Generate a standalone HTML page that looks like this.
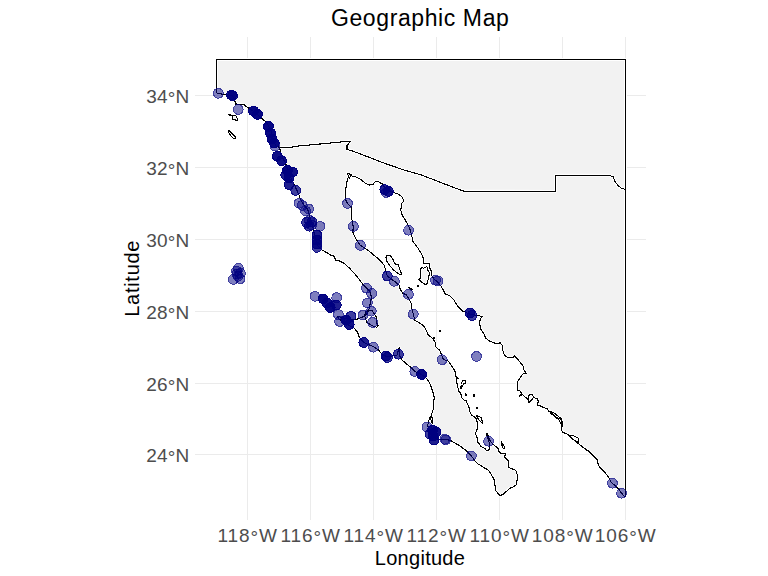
<!DOCTYPE html><html><head><meta charset="utf-8"><style>html,body{margin:0;padding:0;background:#fff;}svg{display:block;}text{font-family:"Liberation Sans",sans-serif;}</style></head><body>
<svg width="768" height="576" viewBox="0 0 768 576">
<rect width="768" height="576" fill="#fff"/>
<path d="M247.5,37 V520 M310.5,37 V520 M373.5,37 V520 M436.5,37 V520 M499.5,37 V520 M562.5,37 V520 M625.5,37 V520 M195,95.5 H646 M195,167.5 H646 M195,239.5 H646 M195,311.5 H646 M195,383.5 H646 M195,454.5 H646" stroke="#EBEBEB" stroke-width="1" fill="none" shape-rendering="crispEdges"/>
<path d="M216.5,59.5 L625.5,59.5 L625.5,497.4 L625.3,497.4 L622.1,493.8 L619.0,489.6 L614.8,485.4 L611.1,482.3 L608.5,477.1 L604.4,471.9 L600.2,467.7 L598.1,464.6 L597.6,460.4 L594.0,456.4 L589.3,451.6 L586.7,450.0 L581.6,446.2 L576.9,442.3 L570.6,436.9 L568.3,434.5 L562.8,432.2 L561.2,429.8 L562.0,426.7 L562.0,421.2 L559.7,418.9 L555.0,416.6 L551.9,413.4 L548.7,411.2 L547.2,408.9 L543.2,407.3 L540.1,405.8 L537.4,405.0 L538.2,401.5 L537.8,399.1 L535.4,398.4 L533.5,397.2 L531.0,401.0 L528.8,402.3 L527.6,399.1 L524.5,396.4 L522.2,394.5 L519.4,396.4 L521.5,393.5 L520.6,391.3 L517.5,390.2 L517.1,383.1 L518.6,380.0 L521.6,375.5 L523.5,373.5 L526.2,373.1 L524.0,370.0 L523.1,366.1 L520.0,362.2 L516.9,358.3 L514.5,356.0 L513.0,357.5 L508.3,357.8 L504.4,355.2 L502.8,350.5 L502.0,345.0 L500.0,342.6 L498.9,343.4 L495.0,343.1 L489.5,341.1 L485.6,338.0 L484.0,334.0 L481.0,329.4 L479.4,323.1 L480.5,318.8 L482.0,316.4 L478.0,315.6 L471.0,314.5 L467.0,313.0 L462.5,311.0 L457.8,306.2 L453.9,300.0 L450.0,296.1 L445.3,293.8 L441.4,286.7 L437.0,281.5 L434.5,279.5 L431.9,276.1 L431.4,271.2 L429.5,267.8 L429.0,263.4 L423.5,263.4 L423.5,258.4 L421.8,254.5 L420.3,252.0 L417.9,248.0 L415.6,245.0 L412.9,241.3 L411.7,235.6 L410.5,231.0 L409.4,227.8 L406.2,221.6 L402.3,215.3 L400.8,210.6 L401.5,203.6 L403.1,202.0 L403.1,199.0 L401.7,196.4 L397.8,194.0 L393.9,192.5 L386.6,190.0 L382.2,183.9 L378.3,181.6 L375.2,181.6 L372.8,184.7 L368.9,185.0 L365.0,183.0 L360.3,179.2 L355.6,176.9 L352.5,176.4 L348.4,177.0 L347.3,180.0 L346.5,184.7 L345.6,190.0 L345.4,194.0 L345.3,198.8 L346.5,202.0 L349.0,205.0 L351.4,207.1 L351.7,212.0 L351.9,219.6 L353.2,226.4 L352.9,232.0 L354.1,235.0 L356.0,238.9 L357.4,240.9 L360.4,245.4 L365.8,248.7 L371.0,252.6 L376.2,257.1 L381.5,261.7 L384.7,266.2 L385.4,270.2 L387.3,276.0 L391.0,279.0 L394.5,281.2 L399.0,285.1 L400.3,289.7 L403.0,293.6 L406.0,294.5 L408.8,298.8 L411.0,302.7 L411.7,307.8 L413.3,314.0 L414.8,320.3 L420.3,323.4 L424.2,326.6 L426.6,331.2 L428.1,334.7 L432.8,338.6 L435.2,342.5 L436.0,347.2 L439.8,350.3 L441.5,355.0 L443.5,359.5 L448.4,361.2 L451.6,366.0 L454.7,370.6 L455.3,372.0 L456.2,377.6 L458.6,378.1 L456.7,379.0 L456.7,382.3 L458.6,390.8 L460.9,393.6 L461.4,397.3 L464.2,400.1 L467.0,400.1 L466.5,402.0 L468.9,406.7 L469.8,411.4 L471.7,415.1 L474.5,417.0 L476.4,418.9 L477.3,422.6 L477.3,426.0 L477.0,429.8 L475.4,433.6 L477.0,437.5 L477.3,442.0 L478.9,443.6 L481.2,446.6 L485.0,448.5 L486.5,450.4 L487.6,450.8 L489.6,448.9 L489.9,445.8 L488.5,440.0 L486.3,433.5 L487.5,434.0 L489.5,440.0 L492.6,443.9 L494.9,445.8 L498.7,448.9 L499.1,452.7 L501.0,453.1 L504.8,453.1 L505.6,454.6 L504.4,456.5 L505.6,458.1 L508.5,461.2 L508.5,467.1 L511.6,468.7 L514.7,469.8 L516.7,471.8 L517.1,474.5 L517.1,480.0 L516.3,484.7 L513.2,487.0 L509.2,488.6 L506.1,491.7 L503.0,494.5 L499.9,495.6 L499.9,495.6 L497.9,493.3 L496.0,491.0 L494.8,484.7 L494.4,480.0 L492.5,476.9 L489.7,471.8 L487.4,469.5 L483.5,467.5 L480.3,465.2 L478.0,464.2 L475.0,461.1 L471.4,455.9 L466.9,451.2 L459.9,446.0 L455.0,443.0 L450.3,440.4 L446.0,439.5 L442.0,440.0 L437.0,439.0 L432.0,436.0 L428.5,430.0 L427.8,425.2 L428.6,421.7 L429.5,418.2 L431.2,415.6 L433.4,408.7 L433.4,401.0 L434.4,398.8 L433.6,394.0 L432.0,389.4 L429.7,383.1 L426.6,378.4 L421.6,374.5 L414.8,371.4 L411.0,367.5 L406.2,363.6 L401.6,359.7 L399.8,356.0 L399.2,347.5 L397.0,355.0 L392.0,356.0 L386.7,356.6 L381.2,353.4 L378.0,349.5 L373.0,346.4 L368.0,344.5 L363.8,342.5 L359.2,337.3 L358.8,335.0 L357.3,332.0 L353.6,327.5 L350.0,326.0 L346.0,324.0 L342.0,321.0 L339.0,319.0 L337.5,316.5 L340.0,317.0 L346.0,318.5 L352.0,319.5 L357.8,319.0 L363.9,316.5 L367.4,313.0 L369.1,308.6 L370.0,304.3 L371.3,298.2 L370.8,293.0 L367.4,288.7 L363.0,284.3 L362.0,283.2 L359.3,279.3 L354.8,274.0 L350.2,268.9 L345.0,263.9 L340.1,261.1 L336.0,260.4 L333.9,256.2 L330.4,254.9 L327.0,252.8 L322.0,250.0 L318.0,246.0 L315.5,240.0 L313.5,230.0 L311.5,222.0 L309.2,214.4 L307.6,209.2 L304.0,205.0 L300.8,199.8 L298.8,194.6 L295.0,186.0 L291.0,178.0 L288.0,170.0 L285.0,162.0 L281.0,155.0 L279.7,147.6 L276.0,146.0 L273.0,140.0 L271.0,131.0 L268.0,125.0 L265.2,121.1 L261.6,118.5 L255.5,112.8 L248.5,108.1 L244.4,105.0 L241.2,104.2 L235.5,104.0 L235.0,101.4 L234.5,99.0 L232.0,95.4 L225.6,94.6 L218.5,93.5 L216.9,93.2 Z" fill="#F2F2F2" stroke="none"/>
<path d="M232.0,115.6 L234.0,115.2 L236.5,116.3 L237.2,118.5 L238.0,120.0 L236.8,121.0 L235.5,119.8 L232.4,119.8 Z" fill="#F2F2F2"/>
<path d="M228.2,114.3 L231.5,115.3 L231.3,115.9 L228.5,114.9 Z" fill="#F2F2F2"/>
<path d="M228.2,130.3 L230.0,131.5 L232.0,133.3 L234.5,135.8 L236.0,137.2 L235.0,138.5 L233.4,138.4 L231.5,136.5 L229.5,133.5 L228.0,131.2 Z" fill="#F2F2F2"/>
<path d="M347.4,173.2 L351.6,174.8 L349.2,178.2 Z" fill="#F2F2F2"/>
<path d="M386.7,255.8 L390.0,255.2 L393.2,259.7 L394.5,263.6 L398.4,265.0 L399.5,268.5 L401.6,274.0 L399.6,274.5 L397.1,272.8 L393.8,270.2 L389.3,265.0 L386.7,261.0 L386.0,257.5 Z" fill="#F2F2F2"/>
<path d="M420.4,269.1 L422.5,267.3 L423.5,268.3 L426.7,266.5 L428.0,268.0 L427.4,269.6 L429.5,272.5 L428.8,277.2 L427.7,281.4 L426.7,284.5 L425.1,284.5 L421.5,281.9 L418.9,279.5 L420.2,278.2 Z" fill="#F2F2F2"/>
<path d="M501.4,441.3 L502.3,443.5 L504.0,445.8 L504.8,448.1 L503.3,448.9 L502.2,446.5 L501.6,443.5 Z" fill="#F2F2F2"/>
<path d="M476.4,415.1 L479.0,416.5 L481.5,418.0 L482.5,423.0 L481.0,422.0 L478.5,419.5 Z" fill="#F2F2F2"/>
<path d="M408.8,287.0 L412.7,289.7 L411.8,290.2 L408.5,287.8 Z" fill="#F2F2F2"/>
<path d="M462.3,380.9 L465.1,380.0 L465.6,383.2 L463.5,384.0 L461.4,388.4 L460.4,388.9 L461.5,384.5 Z" fill="#F2F2F2"/>
<path d="M465.5,394.0 L466.8,394.2 L466.6,395.4 L465.3,395.2 Z" fill="#F2F2F2"/>
<path d="M473.4,394.6 L474.8,395.0 L474.6,396.3 L473.3,396.0 Z" fill="#F2F2F2"/>
<path d="M476.3,407.2 L477.6,408.0 L476.4,408.9 Z" fill="#F2F2F2"/>
<path d="M430.8,416.0 L432.2,417.5 L432.8,420.5 L432.2,423.5 L431.3,421.0 L430.5,418.0 Z" fill="#F2F2F2"/>
<path d="M528.5,396.0 L530.0,394.6 L532.3,394.4 L533.5,397.2 L531.5,400.0 L529.5,402.2 L528.0,399.5 Z" fill="#F2F2F2"/>
<path d="M550.0,411.0 L554.0,413.0 L558.0,416.0 L561.5,419.0 L562.5,423.0 L561.5,424.5 L559.0,420.0 L555.0,416.5 L551.0,413.5 Z" fill="#F2F2F2"/>
<path d="M569.0,435.0 L574.0,436.0 L578.0,438.0 L578.5,442.0 L576.0,441.5 L571.0,438.0 Z" fill="#F2F2F2"/>
<path d="M366.0,311.5 L369.0,310.5 L372.5,311.0 L375.0,315.0 L376.5,317.5 L376.0,321.0 L378.0,325.5 L377.0,327.3 L373.0,326.0 L369.5,324.0 L366.5,322.0 L365.5,318.0 L364.5,315.5 Z" fill="#fff"/>
<path d="M216.5,93.2 L216.5,59.5 L625.5,59.5 L625.5,497.4 M352.5,176.4 L355.6,176.9 L360.3,179.2 L365.0,183.0 L368.9,185.0 L372.8,184.7 L375.2,181.6 L378.3,181.6 L382.2,183.9 L386.6,190.0 L393.9,192.5 L397.8,194.0 L401.7,196.4 L403.1,199.0 L403.1,202.0 L401.5,203.6 L400.8,210.6 L402.3,215.3 L406.2,221.6 L409.4,227.8 L410.5,231.0 L411.7,235.6 L412.9,241.3 L415.6,245.0 L417.9,248.0 L420.3,252.0 L421.8,254.5 L423.5,258.4 L423.5,263.4 L429.0,263.4 L429.5,267.8 L431.4,271.2 L431.9,276.1 L434.5,279.5 L437.0,281.5 L441.4,286.7 L445.3,293.8 L450.0,296.1 L453.9,300.0 L457.8,306.2 L462.5,311.0 L467.0,313.0 L471.0,314.5 L478.0,315.6 L482.0,316.4 L480.5,318.8 L479.4,323.1 L481.0,329.4 L484.0,334.0 L485.6,338.0 L489.5,341.1 L495.0,343.1 L498.9,343.4 L500.0,342.6 L502.0,345.0 L502.8,350.5 L504.4,355.2 L508.3,357.8 L513.0,357.5 L514.5,356.0 L516.9,358.3 L520.0,362.2 L523.1,366.1 L524.0,370.0 L526.2,373.1 L523.5,373.5 L521.6,375.5 L518.6,380.0 L517.1,383.1 L517.5,390.2 L520.6,391.3 L521.5,393.5 L519.4,396.4 L522.2,394.5 L524.5,396.4 L527.6,399.1 L528.8,402.3 L531.0,401.0 L533.5,397.2 L535.4,398.4 L537.8,399.1 L538.2,401.5 L537.4,405.0 L540.1,405.8 L543.2,407.3 L547.2,408.9 L548.7,411.2 L551.9,413.4 L555.0,416.6 L559.7,418.9 L562.0,421.2 L562.0,426.7 L561.2,429.8 L562.8,432.2 L568.3,434.5 L570.6,436.9 L576.9,442.3 L581.6,446.2 L586.7,450.0 L589.3,451.6 L594.0,456.4 L597.6,460.4 L598.1,464.6 L600.2,467.7 L604.4,471.9 L608.5,477.1 L611.1,482.3 L614.8,485.4 L619.0,489.6 L622.1,493.8 L625.3,497.4 M348.4,177.0 L347.3,180.0 L346.5,184.7 L345.6,190.0 L345.4,194.0 L345.3,198.8 L346.5,202.0 L349.0,205.0 L351.4,207.1 L351.7,212.0 L351.9,219.6 L353.2,226.4 L352.9,232.0 L354.1,235.0 L356.0,238.9 L357.4,240.9 L360.4,245.4 L365.8,248.7 L371.0,252.6 L376.2,257.1 L381.5,261.7 L384.7,266.2 L385.4,270.2 L387.3,276.0 L391.0,279.0 L394.5,281.2 L399.0,285.1 L400.3,289.7 L403.0,293.6 L406.0,294.5 L408.8,298.8 L411.0,302.7 L411.7,307.8 L413.3,314.0 L414.8,320.3 L420.3,323.4 L424.2,326.6 L426.6,331.2 L428.1,334.7 L432.8,338.6 L435.2,342.5 L436.0,347.2 L439.8,350.3 L441.5,355.0 L443.5,359.5 L448.4,361.2 L451.6,366.0 L454.7,370.6 L455.3,372.0 L456.2,377.6 L458.6,378.1 L456.7,379.0 L456.7,382.3 L458.6,390.8 L460.9,393.6 L461.4,397.3 L464.2,400.1 L467.0,400.1 L466.5,402.0 L468.9,406.7 L469.8,411.4 L471.7,415.1 L474.5,417.0 L476.4,418.9 L477.3,422.6 L477.3,426.0 L477.0,429.8 L475.4,433.6 L477.0,437.5 L477.3,442.0 L478.9,443.6 L481.2,446.6 L485.0,448.5 L486.5,450.4 L487.6,450.8 L489.6,448.9 L489.9,445.8 L488.5,440.0 L486.3,433.5 L487.5,434.0 L489.5,440.0 L492.6,443.9 L494.9,445.8 L498.7,448.9 L499.1,452.7 L501.0,453.1 L504.8,453.1 L505.6,454.6 L504.4,456.5 L505.6,458.1 L508.5,461.2 L508.5,467.1 L511.6,468.7 L514.7,469.8 L516.7,471.8 L517.1,474.5 L517.1,480.0 L516.3,484.7 L513.2,487.0 L509.2,488.6 L506.1,491.7 L503.0,494.5 L499.9,495.6 M216.9,93.2 L218.5,93.5 L225.6,94.6 L232.0,95.4 L234.5,99.0 L235.0,101.4 L235.5,104.0 L241.2,104.2 L244.4,105.0 L248.5,108.1 L255.5,112.8 L261.6,118.5 L265.2,121.1 L268.0,125.0 L271.0,131.0 L273.0,140.0 L276.0,146.0 L279.7,147.6 L281.0,155.0 L285.0,162.0 L288.0,170.0 L291.0,178.0 L295.0,186.0 L298.8,194.6 L300.8,199.8 L304.0,205.0 L307.6,209.2 L309.2,214.4 L311.5,222.0 L313.5,230.0 L315.5,240.0 L318.0,246.0 L322.0,250.0 L327.0,252.8 L330.4,254.9 L333.9,256.2 L336.0,260.4 L340.1,261.1 L345.0,263.9 L350.2,268.9 L354.8,274.0 L359.3,279.3 L362.0,283.2 L363.0,284.3 L367.4,288.7 L370.8,293.0 L371.3,298.2 L370.0,304.3 L369.1,308.6 L367.4,313.0 L363.9,316.5 L357.8,319.0 L352.0,319.5 L346.0,318.5 L340.0,317.0 L337.5,316.5 L339.0,319.0 L342.0,321.0 L346.0,324.0 L350.0,326.0 L353.6,327.5 L357.3,332.0 L358.8,335.0 L359.2,337.3 L363.8,342.5 L368.0,344.5 L373.0,346.4 L378.0,349.5 L381.2,353.4 L386.7,356.6 L392.0,356.0 L397.0,355.0 L399.2,347.5 L399.8,356.0 L401.6,359.7 L406.2,363.6 L411.0,367.5 L414.8,371.4 L421.6,374.5 L426.6,378.4 L429.7,383.1 L432.0,389.4 L433.6,394.0 L434.4,398.8 L433.4,401.0 L433.4,408.7 L431.2,415.6 L429.5,418.2 L428.6,421.7 L427.8,425.2 L428.5,430.0 L432.0,436.0 L437.0,439.0 L442.0,440.0 L446.0,439.5 L450.3,440.4 L455.0,443.0 L459.9,446.0 L466.9,451.2 L471.4,455.9 L475.0,461.1 L478.0,464.2 L480.3,465.2 L483.5,467.5 L487.4,469.5 L489.7,471.8 L492.5,476.9 L494.4,480.0 L494.8,484.7 L496.0,491.0 L497.9,493.3 L499.9,495.6 M279.7,147.6 L289.7,147.5 L298.4,146.0 L314.9,144.5 L349.4,141.2 L350.4,141.4 L347.0,145.6 L347.0,149.5 L352.5,151.0 L371.2,158.1 L385.3,163.6 L404.7,170.2 L421.5,175.0 L439.5,182.0 L453.0,187.2 L464.0,191.2 L555.6,191.4 L555.6,175.3 L609.0,175.3 L613.0,176.6 L615.3,182.0 L618.4,186.0 L621.6,188.3 L625.3,189.4 M232.0,115.6 L234.0,115.2 L236.5,116.3 L237.2,118.5 L238.0,120.0 L236.8,121.0 L235.5,119.8 L232.4,119.8 Z M228.2,114.3 L231.5,115.3 L231.3,115.9 L228.5,114.9 Z M228.2,130.3 L230.0,131.5 L232.0,133.3 L234.5,135.8 L236.0,137.2 L235.0,138.5 L233.4,138.4 L231.5,136.5 L229.5,133.5 L228.0,131.2 Z M347.4,173.2 L351.6,174.8 L349.2,178.2 Z M386.7,255.8 L390.0,255.2 L393.2,259.7 L394.5,263.6 L398.4,265.0 L399.5,268.5 L401.6,274.0 L399.6,274.5 L397.1,272.8 L393.8,270.2 L389.3,265.0 L386.7,261.0 L386.0,257.5 Z M420.4,269.1 L422.5,267.3 L423.5,268.3 L426.7,266.5 L428.0,268.0 L427.4,269.6 L429.5,272.5 L428.8,277.2 L427.7,281.4 L426.7,284.5 L425.1,284.5 L421.5,281.9 L418.9,279.5 L420.2,278.2 Z M501.4,441.3 L502.3,443.5 L504.0,445.8 L504.8,448.1 L503.3,448.9 L502.2,446.5 L501.6,443.5 Z M476.4,415.1 L479.0,416.5 L481.5,418.0 L482.5,423.0 L481.0,422.0 L478.5,419.5 Z M408.8,287.0 L412.7,289.7 L411.8,290.2 L408.5,287.8 Z M462.3,380.9 L465.1,380.0 L465.6,383.2 L463.5,384.0 L461.4,388.4 L460.4,388.9 L461.5,384.5 Z M465.5,394.0 L466.8,394.2 L466.6,395.4 L465.3,395.2 Z M473.4,394.6 L474.8,395.0 L474.6,396.3 L473.3,396.0 Z M476.3,407.2 L477.6,408.0 L476.4,408.9 Z M430.8,416.0 L432.2,417.5 L432.8,420.5 L432.2,423.5 L431.3,421.0 L430.5,418.0 Z M528.5,396.0 L530.0,394.6 L532.3,394.4 L533.5,397.2 L531.5,400.0 L529.5,402.2 L528.0,399.5 Z M550.0,411.0 L554.0,413.0 L558.0,416.0 L561.5,419.0 L562.5,423.0 L561.5,424.5 L559.0,420.0 L555.0,416.5 L551.0,413.5 Z M569.0,435.0 L574.0,436.0 L578.0,438.0 L578.5,442.0 L576.0,441.5 L571.0,438.0 Z M366.0,311.5 L369.0,310.5 L372.5,311.0 L375.0,315.0 L376.5,317.5 L376.0,321.0 L378.0,325.5 L377.0,327.3 L373.0,326.0 L369.5,324.0 L366.5,322.0 L365.5,318.0 L364.5,315.5 Z" fill="none" stroke="#fff" stroke-width="3" stroke-linejoin="round" stroke-linecap="round"/>
<path d="M216.5,93.2 L216.5,59.5 L625.5,59.5 L625.5,497.4 M352.5,176.4 L355.6,176.9 L360.3,179.2 L365.0,183.0 L368.9,185.0 L372.8,184.7 L375.2,181.6 L378.3,181.6 L382.2,183.9 L386.6,190.0 L393.9,192.5 L397.8,194.0 L401.7,196.4 L403.1,199.0 L403.1,202.0 L401.5,203.6 L400.8,210.6 L402.3,215.3 L406.2,221.6 L409.4,227.8 L410.5,231.0 L411.7,235.6 L412.9,241.3 L415.6,245.0 L417.9,248.0 L420.3,252.0 L421.8,254.5 L423.5,258.4 L423.5,263.4 L429.0,263.4 L429.5,267.8 L431.4,271.2 L431.9,276.1 L434.5,279.5 L437.0,281.5 L441.4,286.7 L445.3,293.8 L450.0,296.1 L453.9,300.0 L457.8,306.2 L462.5,311.0 L467.0,313.0 L471.0,314.5 L478.0,315.6 L482.0,316.4 L480.5,318.8 L479.4,323.1 L481.0,329.4 L484.0,334.0 L485.6,338.0 L489.5,341.1 L495.0,343.1 L498.9,343.4 L500.0,342.6 L502.0,345.0 L502.8,350.5 L504.4,355.2 L508.3,357.8 L513.0,357.5 L514.5,356.0 L516.9,358.3 L520.0,362.2 L523.1,366.1 L524.0,370.0 L526.2,373.1 L523.5,373.5 L521.6,375.5 L518.6,380.0 L517.1,383.1 L517.5,390.2 L520.6,391.3 L521.5,393.5 L519.4,396.4 L522.2,394.5 L524.5,396.4 L527.6,399.1 L528.8,402.3 L531.0,401.0 L533.5,397.2 L535.4,398.4 L537.8,399.1 L538.2,401.5 L537.4,405.0 L540.1,405.8 L543.2,407.3 L547.2,408.9 L548.7,411.2 L551.9,413.4 L555.0,416.6 L559.7,418.9 L562.0,421.2 L562.0,426.7 L561.2,429.8 L562.8,432.2 L568.3,434.5 L570.6,436.9 L576.9,442.3 L581.6,446.2 L586.7,450.0 L589.3,451.6 L594.0,456.4 L597.6,460.4 L598.1,464.6 L600.2,467.7 L604.4,471.9 L608.5,477.1 L611.1,482.3 L614.8,485.4 L619.0,489.6 L622.1,493.8 L625.3,497.4 M348.4,177.0 L347.3,180.0 L346.5,184.7 L345.6,190.0 L345.4,194.0 L345.3,198.8 L346.5,202.0 L349.0,205.0 L351.4,207.1 L351.7,212.0 L351.9,219.6 L353.2,226.4 L352.9,232.0 L354.1,235.0 L356.0,238.9 L357.4,240.9 L360.4,245.4 L365.8,248.7 L371.0,252.6 L376.2,257.1 L381.5,261.7 L384.7,266.2 L385.4,270.2 L387.3,276.0 L391.0,279.0 L394.5,281.2 L399.0,285.1 L400.3,289.7 L403.0,293.6 L406.0,294.5 L408.8,298.8 L411.0,302.7 L411.7,307.8 L413.3,314.0 L414.8,320.3 L420.3,323.4 L424.2,326.6 L426.6,331.2 L428.1,334.7 L432.8,338.6 L435.2,342.5 L436.0,347.2 L439.8,350.3 L441.5,355.0 L443.5,359.5 L448.4,361.2 L451.6,366.0 L454.7,370.6 L455.3,372.0 L456.2,377.6 L458.6,378.1 L456.7,379.0 L456.7,382.3 L458.6,390.8 L460.9,393.6 L461.4,397.3 L464.2,400.1 L467.0,400.1 L466.5,402.0 L468.9,406.7 L469.8,411.4 L471.7,415.1 L474.5,417.0 L476.4,418.9 L477.3,422.6 L477.3,426.0 L477.0,429.8 L475.4,433.6 L477.0,437.5 L477.3,442.0 L478.9,443.6 L481.2,446.6 L485.0,448.5 L486.5,450.4 L487.6,450.8 L489.6,448.9 L489.9,445.8 L488.5,440.0 L486.3,433.5 L487.5,434.0 L489.5,440.0 L492.6,443.9 L494.9,445.8 L498.7,448.9 L499.1,452.7 L501.0,453.1 L504.8,453.1 L505.6,454.6 L504.4,456.5 L505.6,458.1 L508.5,461.2 L508.5,467.1 L511.6,468.7 L514.7,469.8 L516.7,471.8 L517.1,474.5 L517.1,480.0 L516.3,484.7 L513.2,487.0 L509.2,488.6 L506.1,491.7 L503.0,494.5 L499.9,495.6 M216.9,93.2 L218.5,93.5 L225.6,94.6 L232.0,95.4 L234.5,99.0 L235.0,101.4 L235.5,104.0 L241.2,104.2 L244.4,105.0 L248.5,108.1 L255.5,112.8 L261.6,118.5 L265.2,121.1 L268.0,125.0 L271.0,131.0 L273.0,140.0 L276.0,146.0 L279.7,147.6 L281.0,155.0 L285.0,162.0 L288.0,170.0 L291.0,178.0 L295.0,186.0 L298.8,194.6 L300.8,199.8 L304.0,205.0 L307.6,209.2 L309.2,214.4 L311.5,222.0 L313.5,230.0 L315.5,240.0 L318.0,246.0 L322.0,250.0 L327.0,252.8 L330.4,254.9 L333.9,256.2 L336.0,260.4 L340.1,261.1 L345.0,263.9 L350.2,268.9 L354.8,274.0 L359.3,279.3 L362.0,283.2 L363.0,284.3 L367.4,288.7 L370.8,293.0 L371.3,298.2 L370.0,304.3 L369.1,308.6 L367.4,313.0 L363.9,316.5 L357.8,319.0 L352.0,319.5 L346.0,318.5 L340.0,317.0 L337.5,316.5 L339.0,319.0 L342.0,321.0 L346.0,324.0 L350.0,326.0 L353.6,327.5 L357.3,332.0 L358.8,335.0 L359.2,337.3 L363.8,342.5 L368.0,344.5 L373.0,346.4 L378.0,349.5 L381.2,353.4 L386.7,356.6 L392.0,356.0 L397.0,355.0 L399.2,347.5 L399.8,356.0 L401.6,359.7 L406.2,363.6 L411.0,367.5 L414.8,371.4 L421.6,374.5 L426.6,378.4 L429.7,383.1 L432.0,389.4 L433.6,394.0 L434.4,398.8 L433.4,401.0 L433.4,408.7 L431.2,415.6 L429.5,418.2 L428.6,421.7 L427.8,425.2 L428.5,430.0 L432.0,436.0 L437.0,439.0 L442.0,440.0 L446.0,439.5 L450.3,440.4 L455.0,443.0 L459.9,446.0 L466.9,451.2 L471.4,455.9 L475.0,461.1 L478.0,464.2 L480.3,465.2 L483.5,467.5 L487.4,469.5 L489.7,471.8 L492.5,476.9 L494.4,480.0 L494.8,484.7 L496.0,491.0 L497.9,493.3 L499.9,495.6 M279.7,147.6 L289.7,147.5 L298.4,146.0 L314.9,144.5 L349.4,141.2 L350.4,141.4 L347.0,145.6 L347.0,149.5 L352.5,151.0 L371.2,158.1 L385.3,163.6 L404.7,170.2 L421.5,175.0 L439.5,182.0 L453.0,187.2 L464.0,191.2 L555.6,191.4 L555.6,175.3 L609.0,175.3 L613.0,176.6 L615.3,182.0 L618.4,186.0 L621.6,188.3 L625.3,189.4 M232.0,115.6 L234.0,115.2 L236.5,116.3 L237.2,118.5 L238.0,120.0 L236.8,121.0 L235.5,119.8 L232.4,119.8 Z M228.2,114.3 L231.5,115.3 L231.3,115.9 L228.5,114.9 Z M228.2,130.3 L230.0,131.5 L232.0,133.3 L234.5,135.8 L236.0,137.2 L235.0,138.5 L233.4,138.4 L231.5,136.5 L229.5,133.5 L228.0,131.2 Z M347.4,173.2 L351.6,174.8 L349.2,178.2 Z M386.7,255.8 L390.0,255.2 L393.2,259.7 L394.5,263.6 L398.4,265.0 L399.5,268.5 L401.6,274.0 L399.6,274.5 L397.1,272.8 L393.8,270.2 L389.3,265.0 L386.7,261.0 L386.0,257.5 Z M420.4,269.1 L422.5,267.3 L423.5,268.3 L426.7,266.5 L428.0,268.0 L427.4,269.6 L429.5,272.5 L428.8,277.2 L427.7,281.4 L426.7,284.5 L425.1,284.5 L421.5,281.9 L418.9,279.5 L420.2,278.2 Z M501.4,441.3 L502.3,443.5 L504.0,445.8 L504.8,448.1 L503.3,448.9 L502.2,446.5 L501.6,443.5 Z M476.4,415.1 L479.0,416.5 L481.5,418.0 L482.5,423.0 L481.0,422.0 L478.5,419.5 Z M408.8,287.0 L412.7,289.7 L411.8,290.2 L408.5,287.8 Z M462.3,380.9 L465.1,380.0 L465.6,383.2 L463.5,384.0 L461.4,388.4 L460.4,388.9 L461.5,384.5 Z M465.5,394.0 L466.8,394.2 L466.6,395.4 L465.3,395.2 Z M473.4,394.6 L474.8,395.0 L474.6,396.3 L473.3,396.0 Z M476.3,407.2 L477.6,408.0 L476.4,408.9 Z M430.8,416.0 L432.2,417.5 L432.8,420.5 L432.2,423.5 L431.3,421.0 L430.5,418.0 Z M528.5,396.0 L530.0,394.6 L532.3,394.4 L533.5,397.2 L531.5,400.0 L529.5,402.2 L528.0,399.5 Z M550.0,411.0 L554.0,413.0 L558.0,416.0 L561.5,419.0 L562.5,423.0 L561.5,424.5 L559.0,420.0 L555.0,416.5 L551.0,413.5 Z M569.0,435.0 L574.0,436.0 L578.0,438.0 L578.5,442.0 L576.0,441.5 L571.0,438.0 Z M366.0,311.5 L369.0,310.5 L372.5,311.0 L375.0,315.0 L376.5,317.5 L376.0,321.0 L378.0,325.5 L377.0,327.3 L373.0,326.0 L369.5,324.0 L366.5,322.0 L365.5,318.0 L364.5,315.5 Z" fill="none" stroke="#000" stroke-width="1.1" stroke-linejoin="round" shape-rendering="crispEdges"/>
<rect x="417" y="285" width="2" height="2" fill="#000"/>
<rect x="439" y="330" width="2" height="2" fill="#000"/>
<rect x="433" y="337" width="2" height="2" fill="#000"/>
<g><circle cx="218.3" cy="93.3" r="5.4" fill="#000080" fill-opacity="0.5" shape-rendering="crispEdges"/><circle cx="218.3" cy="93.3" r="4.9" fill="none" stroke="#000080" stroke-opacity="0.5" stroke-width="1" shape-rendering="crispEdges"/><circle cx="231.5" cy="95" r="5.4" fill="#000080" fill-opacity="0.5" shape-rendering="crispEdges"/><circle cx="231.5" cy="95" r="4.9" fill="none" stroke="#000080" stroke-opacity="0.5" stroke-width="1" shape-rendering="crispEdges"/><circle cx="231.5" cy="95" r="5.4" fill="#000080" fill-opacity="0.5" shape-rendering="crispEdges"/><circle cx="231.5" cy="95" r="4.9" fill="none" stroke="#000080" stroke-opacity="0.5" stroke-width="1" shape-rendering="crispEdges"/><circle cx="231.5" cy="95" r="5.4" fill="#000080" fill-opacity="0.5" shape-rendering="crispEdges"/><circle cx="231.5" cy="95" r="4.9" fill="none" stroke="#000080" stroke-opacity="0.5" stroke-width="1" shape-rendering="crispEdges"/><circle cx="232.5" cy="95.8" r="5.4" fill="#000080" fill-opacity="0.5" shape-rendering="crispEdges"/><circle cx="232.5" cy="95.8" r="4.9" fill="none" stroke="#000080" stroke-opacity="0.5" stroke-width="1" shape-rendering="crispEdges"/><circle cx="232.5" cy="95.8" r="5.4" fill="#000080" fill-opacity="0.5" shape-rendering="crispEdges"/><circle cx="232.5" cy="95.8" r="4.9" fill="none" stroke="#000080" stroke-opacity="0.5" stroke-width="1" shape-rendering="crispEdges"/><circle cx="232.5" cy="95.8" r="5.4" fill="#000080" fill-opacity="0.5" shape-rendering="crispEdges"/><circle cx="232.5" cy="95.8" r="4.9" fill="none" stroke="#000080" stroke-opacity="0.5" stroke-width="1" shape-rendering="crispEdges"/><circle cx="238.3" cy="109.5" r="5.4" fill="#000080" fill-opacity="0.5" shape-rendering="crispEdges"/><circle cx="238.3" cy="109.5" r="4.9" fill="none" stroke="#000080" stroke-opacity="0.5" stroke-width="1" shape-rendering="crispEdges"/><circle cx="253.5" cy="111" r="5.4" fill="#000080" fill-opacity="0.5" shape-rendering="crispEdges"/><circle cx="253.5" cy="111" r="4.9" fill="none" stroke="#000080" stroke-opacity="0.5" stroke-width="1" shape-rendering="crispEdges"/><circle cx="253.5" cy="111" r="5.4" fill="#000080" fill-opacity="0.5" shape-rendering="crispEdges"/><circle cx="253.5" cy="111" r="4.9" fill="none" stroke="#000080" stroke-opacity="0.5" stroke-width="1" shape-rendering="crispEdges"/><circle cx="253.5" cy="111" r="5.4" fill="#000080" fill-opacity="0.5" shape-rendering="crispEdges"/><circle cx="253.5" cy="111" r="4.9" fill="none" stroke="#000080" stroke-opacity="0.5" stroke-width="1" shape-rendering="crispEdges"/><circle cx="253.5" cy="111" r="5.4" fill="#000080" fill-opacity="0.5" shape-rendering="crispEdges"/><circle cx="253.5" cy="111" r="4.9" fill="none" stroke="#000080" stroke-opacity="0.5" stroke-width="1" shape-rendering="crispEdges"/><circle cx="253.5" cy="111" r="5.4" fill="#000080" fill-opacity="0.5" shape-rendering="crispEdges"/><circle cx="253.5" cy="111" r="4.9" fill="none" stroke="#000080" stroke-opacity="0.5" stroke-width="1" shape-rendering="crispEdges"/><circle cx="257.5" cy="114.5" r="5.4" fill="#000080" fill-opacity="0.5" shape-rendering="crispEdges"/><circle cx="257.5" cy="114.5" r="4.9" fill="none" stroke="#000080" stroke-opacity="0.5" stroke-width="1" shape-rendering="crispEdges"/><circle cx="257.5" cy="114.5" r="5.4" fill="#000080" fill-opacity="0.5" shape-rendering="crispEdges"/><circle cx="257.5" cy="114.5" r="4.9" fill="none" stroke="#000080" stroke-opacity="0.5" stroke-width="1" shape-rendering="crispEdges"/><circle cx="257.5" cy="114.5" r="5.4" fill="#000080" fill-opacity="0.5" shape-rendering="crispEdges"/><circle cx="257.5" cy="114.5" r="4.9" fill="none" stroke="#000080" stroke-opacity="0.5" stroke-width="1" shape-rendering="crispEdges"/><circle cx="257.5" cy="114.5" r="5.4" fill="#000080" fill-opacity="0.5" shape-rendering="crispEdges"/><circle cx="257.5" cy="114.5" r="4.9" fill="none" stroke="#000080" stroke-opacity="0.5" stroke-width="1" shape-rendering="crispEdges"/><circle cx="257.5" cy="114.5" r="5.4" fill="#000080" fill-opacity="0.5" shape-rendering="crispEdges"/><circle cx="257.5" cy="114.5" r="4.9" fill="none" stroke="#000080" stroke-opacity="0.5" stroke-width="1" shape-rendering="crispEdges"/><circle cx="268.5" cy="126.5" r="5.4" fill="#000080" fill-opacity="0.5" shape-rendering="crispEdges"/><circle cx="268.5" cy="126.5" r="4.9" fill="none" stroke="#000080" stroke-opacity="0.5" stroke-width="1" shape-rendering="crispEdges"/><circle cx="268.5" cy="126.5" r="5.4" fill="#000080" fill-opacity="0.5" shape-rendering="crispEdges"/><circle cx="268.5" cy="126.5" r="4.9" fill="none" stroke="#000080" stroke-opacity="0.5" stroke-width="1" shape-rendering="crispEdges"/><circle cx="268.5" cy="126.5" r="5.4" fill="#000080" fill-opacity="0.5" shape-rendering="crispEdges"/><circle cx="268.5" cy="126.5" r="4.9" fill="none" stroke="#000080" stroke-opacity="0.5" stroke-width="1" shape-rendering="crispEdges"/><circle cx="268.5" cy="126.5" r="5.4" fill="#000080" fill-opacity="0.5" shape-rendering="crispEdges"/><circle cx="268.5" cy="126.5" r="4.9" fill="none" stroke="#000080" stroke-opacity="0.5" stroke-width="1" shape-rendering="crispEdges"/><circle cx="268.5" cy="126.5" r="5.4" fill="#000080" fill-opacity="0.5" shape-rendering="crispEdges"/><circle cx="268.5" cy="126.5" r="4.9" fill="none" stroke="#000080" stroke-opacity="0.5" stroke-width="1" shape-rendering="crispEdges"/><circle cx="270.5" cy="133" r="5.4" fill="#000080" fill-opacity="0.5" shape-rendering="crispEdges"/><circle cx="270.5" cy="133" r="4.9" fill="none" stroke="#000080" stroke-opacity="0.5" stroke-width="1" shape-rendering="crispEdges"/><circle cx="270.5" cy="133" r="5.4" fill="#000080" fill-opacity="0.5" shape-rendering="crispEdges"/><circle cx="270.5" cy="133" r="4.9" fill="none" stroke="#000080" stroke-opacity="0.5" stroke-width="1" shape-rendering="crispEdges"/><circle cx="270.5" cy="133" r="5.4" fill="#000080" fill-opacity="0.5" shape-rendering="crispEdges"/><circle cx="270.5" cy="133" r="4.9" fill="none" stroke="#000080" stroke-opacity="0.5" stroke-width="1" shape-rendering="crispEdges"/><circle cx="270.5" cy="133" r="5.4" fill="#000080" fill-opacity="0.5" shape-rendering="crispEdges"/><circle cx="270.5" cy="133" r="4.9" fill="none" stroke="#000080" stroke-opacity="0.5" stroke-width="1" shape-rendering="crispEdges"/><circle cx="270.5" cy="133" r="5.4" fill="#000080" fill-opacity="0.5" shape-rendering="crispEdges"/><circle cx="270.5" cy="133" r="4.9" fill="none" stroke="#000080" stroke-opacity="0.5" stroke-width="1" shape-rendering="crispEdges"/><circle cx="272" cy="139" r="5.4" fill="#000080" fill-opacity="0.5" shape-rendering="crispEdges"/><circle cx="272" cy="139" r="4.9" fill="none" stroke="#000080" stroke-opacity="0.5" stroke-width="1" shape-rendering="crispEdges"/><circle cx="272" cy="139" r="5.4" fill="#000080" fill-opacity="0.5" shape-rendering="crispEdges"/><circle cx="272" cy="139" r="4.9" fill="none" stroke="#000080" stroke-opacity="0.5" stroke-width="1" shape-rendering="crispEdges"/><circle cx="272" cy="139" r="5.4" fill="#000080" fill-opacity="0.5" shape-rendering="crispEdges"/><circle cx="272" cy="139" r="4.9" fill="none" stroke="#000080" stroke-opacity="0.5" stroke-width="1" shape-rendering="crispEdges"/><circle cx="272" cy="139" r="5.4" fill="#000080" fill-opacity="0.5" shape-rendering="crispEdges"/><circle cx="272" cy="139" r="4.9" fill="none" stroke="#000080" stroke-opacity="0.5" stroke-width="1" shape-rendering="crispEdges"/><circle cx="272" cy="139" r="5.4" fill="#000080" fill-opacity="0.5" shape-rendering="crispEdges"/><circle cx="272" cy="139" r="4.9" fill="none" stroke="#000080" stroke-opacity="0.5" stroke-width="1" shape-rendering="crispEdges"/><circle cx="274.3" cy="143" r="5.4" fill="#000080" fill-opacity="0.5" shape-rendering="crispEdges"/><circle cx="274.3" cy="143" r="4.9" fill="none" stroke="#000080" stroke-opacity="0.5" stroke-width="1" shape-rendering="crispEdges"/><circle cx="274.3" cy="143" r="5.4" fill="#000080" fill-opacity="0.5" shape-rendering="crispEdges"/><circle cx="274.3" cy="143" r="4.9" fill="none" stroke="#000080" stroke-opacity="0.5" stroke-width="1" shape-rendering="crispEdges"/><circle cx="274.3" cy="143" r="5.4" fill="#000080" fill-opacity="0.5" shape-rendering="crispEdges"/><circle cx="274.3" cy="143" r="4.9" fill="none" stroke="#000080" stroke-opacity="0.5" stroke-width="1" shape-rendering="crispEdges"/><circle cx="274.3" cy="143" r="5.4" fill="#000080" fill-opacity="0.5" shape-rendering="crispEdges"/><circle cx="274.3" cy="143" r="4.9" fill="none" stroke="#000080" stroke-opacity="0.5" stroke-width="1" shape-rendering="crispEdges"/><circle cx="275" cy="146" r="5.4" fill="#000080" fill-opacity="0.5" shape-rendering="crispEdges"/><circle cx="275" cy="146" r="4.9" fill="none" stroke="#000080" stroke-opacity="0.5" stroke-width="1" shape-rendering="crispEdges"/><circle cx="277.3" cy="156.2" r="5.4" fill="#000080" fill-opacity="0.5" shape-rendering="crispEdges"/><circle cx="277.3" cy="156.2" r="4.9" fill="none" stroke="#000080" stroke-opacity="0.5" stroke-width="1" shape-rendering="crispEdges"/><circle cx="277.3" cy="156.2" r="5.4" fill="#000080" fill-opacity="0.5" shape-rendering="crispEdges"/><circle cx="277.3" cy="156.2" r="4.9" fill="none" stroke="#000080" stroke-opacity="0.5" stroke-width="1" shape-rendering="crispEdges"/><circle cx="277.3" cy="156.2" r="5.4" fill="#000080" fill-opacity="0.5" shape-rendering="crispEdges"/><circle cx="277.3" cy="156.2" r="4.9" fill="none" stroke="#000080" stroke-opacity="0.5" stroke-width="1" shape-rendering="crispEdges"/><circle cx="277.3" cy="156.2" r="5.4" fill="#000080" fill-opacity="0.5" shape-rendering="crispEdges"/><circle cx="277.3" cy="156.2" r="4.9" fill="none" stroke="#000080" stroke-opacity="0.5" stroke-width="1" shape-rendering="crispEdges"/><circle cx="281.6" cy="160.8" r="5.4" fill="#000080" fill-opacity="0.5" shape-rendering="crispEdges"/><circle cx="281.6" cy="160.8" r="4.9" fill="none" stroke="#000080" stroke-opacity="0.5" stroke-width="1" shape-rendering="crispEdges"/><circle cx="281.6" cy="160.8" r="5.4" fill="#000080" fill-opacity="0.5" shape-rendering="crispEdges"/><circle cx="281.6" cy="160.8" r="4.9" fill="none" stroke="#000080" stroke-opacity="0.5" stroke-width="1" shape-rendering="crispEdges"/><circle cx="281.6" cy="160.8" r="5.4" fill="#000080" fill-opacity="0.5" shape-rendering="crispEdges"/><circle cx="281.6" cy="160.8" r="4.9" fill="none" stroke="#000080" stroke-opacity="0.5" stroke-width="1" shape-rendering="crispEdges"/><circle cx="281.6" cy="160.8" r="5.4" fill="#000080" fill-opacity="0.5" shape-rendering="crispEdges"/><circle cx="281.6" cy="160.8" r="4.9" fill="none" stroke="#000080" stroke-opacity="0.5" stroke-width="1" shape-rendering="crispEdges"/><circle cx="287.5" cy="170.5" r="5.4" fill="#000080" fill-opacity="0.5" shape-rendering="crispEdges"/><circle cx="287.5" cy="170.5" r="4.9" fill="none" stroke="#000080" stroke-opacity="0.5" stroke-width="1" shape-rendering="crispEdges"/><circle cx="287.5" cy="170.5" r="5.4" fill="#000080" fill-opacity="0.5" shape-rendering="crispEdges"/><circle cx="287.5" cy="170.5" r="4.9" fill="none" stroke="#000080" stroke-opacity="0.5" stroke-width="1" shape-rendering="crispEdges"/><circle cx="287.5" cy="170.5" r="5.4" fill="#000080" fill-opacity="0.5" shape-rendering="crispEdges"/><circle cx="287.5" cy="170.5" r="4.9" fill="none" stroke="#000080" stroke-opacity="0.5" stroke-width="1" shape-rendering="crispEdges"/><circle cx="287.5" cy="170.5" r="5.4" fill="#000080" fill-opacity="0.5" shape-rendering="crispEdges"/><circle cx="287.5" cy="170.5" r="4.9" fill="none" stroke="#000080" stroke-opacity="0.5" stroke-width="1" shape-rendering="crispEdges"/><circle cx="287.5" cy="170.5" r="5.4" fill="#000080" fill-opacity="0.5" shape-rendering="crispEdges"/><circle cx="287.5" cy="170.5" r="4.9" fill="none" stroke="#000080" stroke-opacity="0.5" stroke-width="1" shape-rendering="crispEdges"/><circle cx="292.6" cy="172" r="5.4" fill="#000080" fill-opacity="0.5" shape-rendering="crispEdges"/><circle cx="292.6" cy="172" r="4.9" fill="none" stroke="#000080" stroke-opacity="0.5" stroke-width="1" shape-rendering="crispEdges"/><circle cx="292.6" cy="172" r="5.4" fill="#000080" fill-opacity="0.5" shape-rendering="crispEdges"/><circle cx="292.6" cy="172" r="4.9" fill="none" stroke="#000080" stroke-opacity="0.5" stroke-width="1" shape-rendering="crispEdges"/><circle cx="292.6" cy="172" r="5.4" fill="#000080" fill-opacity="0.5" shape-rendering="crispEdges"/><circle cx="292.6" cy="172" r="4.9" fill="none" stroke="#000080" stroke-opacity="0.5" stroke-width="1" shape-rendering="crispEdges"/><circle cx="292.6" cy="172" r="5.4" fill="#000080" fill-opacity="0.5" shape-rendering="crispEdges"/><circle cx="292.6" cy="172" r="4.9" fill="none" stroke="#000080" stroke-opacity="0.5" stroke-width="1" shape-rendering="crispEdges"/><circle cx="285.8" cy="175" r="5.4" fill="#000080" fill-opacity="0.5" shape-rendering="crispEdges"/><circle cx="285.8" cy="175" r="4.9" fill="none" stroke="#000080" stroke-opacity="0.5" stroke-width="1" shape-rendering="crispEdges"/><circle cx="285.8" cy="175" r="5.4" fill="#000080" fill-opacity="0.5" shape-rendering="crispEdges"/><circle cx="285.8" cy="175" r="4.9" fill="none" stroke="#000080" stroke-opacity="0.5" stroke-width="1" shape-rendering="crispEdges"/><circle cx="285.8" cy="175" r="5.4" fill="#000080" fill-opacity="0.5" shape-rendering="crispEdges"/><circle cx="285.8" cy="175" r="4.9" fill="none" stroke="#000080" stroke-opacity="0.5" stroke-width="1" shape-rendering="crispEdges"/><circle cx="289" cy="178" r="5.4" fill="#000080" fill-opacity="0.5" shape-rendering="crispEdges"/><circle cx="289" cy="178" r="4.9" fill="none" stroke="#000080" stroke-opacity="0.5" stroke-width="1" shape-rendering="crispEdges"/><circle cx="289" cy="178" r="5.4" fill="#000080" fill-opacity="0.5" shape-rendering="crispEdges"/><circle cx="289" cy="178" r="4.9" fill="none" stroke="#000080" stroke-opacity="0.5" stroke-width="1" shape-rendering="crispEdges"/><circle cx="289" cy="178" r="5.4" fill="#000080" fill-opacity="0.5" shape-rendering="crispEdges"/><circle cx="289" cy="178" r="4.9" fill="none" stroke="#000080" stroke-opacity="0.5" stroke-width="1" shape-rendering="crispEdges"/><circle cx="289" cy="178" r="5.4" fill="#000080" fill-opacity="0.5" shape-rendering="crispEdges"/><circle cx="289" cy="178" r="4.9" fill="none" stroke="#000080" stroke-opacity="0.5" stroke-width="1" shape-rendering="crispEdges"/><circle cx="289" cy="184.5" r="5.4" fill="#000080" fill-opacity="0.5" shape-rendering="crispEdges"/><circle cx="289" cy="184.5" r="4.9" fill="none" stroke="#000080" stroke-opacity="0.5" stroke-width="1" shape-rendering="crispEdges"/><circle cx="289" cy="184.5" r="5.4" fill="#000080" fill-opacity="0.5" shape-rendering="crispEdges"/><circle cx="289" cy="184.5" r="4.9" fill="none" stroke="#000080" stroke-opacity="0.5" stroke-width="1" shape-rendering="crispEdges"/><circle cx="289" cy="184.5" r="5.4" fill="#000080" fill-opacity="0.5" shape-rendering="crispEdges"/><circle cx="289" cy="184.5" r="4.9" fill="none" stroke="#000080" stroke-opacity="0.5" stroke-width="1" shape-rendering="crispEdges"/><circle cx="295.8" cy="190.4" r="5.4" fill="#000080" fill-opacity="0.5" shape-rendering="crispEdges"/><circle cx="295.8" cy="190.4" r="4.9" fill="none" stroke="#000080" stroke-opacity="0.5" stroke-width="1" shape-rendering="crispEdges"/><circle cx="295.8" cy="190.4" r="5.4" fill="#000080" fill-opacity="0.5" shape-rendering="crispEdges"/><circle cx="295.8" cy="190.4" r="4.9" fill="none" stroke="#000080" stroke-opacity="0.5" stroke-width="1" shape-rendering="crispEdges"/><circle cx="299.1" cy="203.2" r="5.4" fill="#000080" fill-opacity="0.5" shape-rendering="crispEdges"/><circle cx="299.1" cy="203.2" r="4.9" fill="none" stroke="#000080" stroke-opacity="0.5" stroke-width="1" shape-rendering="crispEdges"/><circle cx="302.2" cy="205.4" r="5.4" fill="#000080" fill-opacity="0.5" shape-rendering="crispEdges"/><circle cx="302.2" cy="205.4" r="4.9" fill="none" stroke="#000080" stroke-opacity="0.5" stroke-width="1" shape-rendering="crispEdges"/><circle cx="308.7" cy="208.9" r="5.4" fill="#000080" fill-opacity="0.5" shape-rendering="crispEdges"/><circle cx="308.7" cy="208.9" r="4.9" fill="none" stroke="#000080" stroke-opacity="0.5" stroke-width="1" shape-rendering="crispEdges"/><circle cx="305.6" cy="211" r="5.4" fill="#000080" fill-opacity="0.5" shape-rendering="crispEdges"/><circle cx="305.6" cy="211" r="4.9" fill="none" stroke="#000080" stroke-opacity="0.5" stroke-width="1" shape-rendering="crispEdges"/><circle cx="306.6" cy="222.5" r="5.4" fill="#000080" fill-opacity="0.5" shape-rendering="crispEdges"/><circle cx="306.6" cy="222.5" r="4.9" fill="none" stroke="#000080" stroke-opacity="0.5" stroke-width="1" shape-rendering="crispEdges"/><circle cx="306.6" cy="222.5" r="5.4" fill="#000080" fill-opacity="0.5" shape-rendering="crispEdges"/><circle cx="306.6" cy="222.5" r="4.9" fill="none" stroke="#000080" stroke-opacity="0.5" stroke-width="1" shape-rendering="crispEdges"/><circle cx="312" cy="221.8" r="5.4" fill="#000080" fill-opacity="0.5" shape-rendering="crispEdges"/><circle cx="312" cy="221.8" r="4.9" fill="none" stroke="#000080" stroke-opacity="0.5" stroke-width="1" shape-rendering="crispEdges"/><circle cx="312" cy="221.8" r="5.4" fill="#000080" fill-opacity="0.5" shape-rendering="crispEdges"/><circle cx="312" cy="221.8" r="4.9" fill="none" stroke="#000080" stroke-opacity="0.5" stroke-width="1" shape-rendering="crispEdges"/><circle cx="309.3" cy="226.2" r="5.4" fill="#000080" fill-opacity="0.5" shape-rendering="crispEdges"/><circle cx="309.3" cy="226.2" r="4.9" fill="none" stroke="#000080" stroke-opacity="0.5" stroke-width="1" shape-rendering="crispEdges"/><circle cx="309.3" cy="226.2" r="5.4" fill="#000080" fill-opacity="0.5" shape-rendering="crispEdges"/><circle cx="309.3" cy="226.2" r="4.9" fill="none" stroke="#000080" stroke-opacity="0.5" stroke-width="1" shape-rendering="crispEdges"/><circle cx="309.5" cy="220.5" r="5.4" fill="#000080" fill-opacity="0.5" shape-rendering="crispEdges"/><circle cx="309.5" cy="220.5" r="4.9" fill="none" stroke="#000080" stroke-opacity="0.5" stroke-width="1" shape-rendering="crispEdges"/><circle cx="311.5" cy="225" r="5.4" fill="#000080" fill-opacity="0.5" shape-rendering="crispEdges"/><circle cx="311.5" cy="225" r="4.9" fill="none" stroke="#000080" stroke-opacity="0.5" stroke-width="1" shape-rendering="crispEdges"/><circle cx="320" cy="226.25" r="5.4" fill="#000080" fill-opacity="0.5" shape-rendering="crispEdges"/><circle cx="320" cy="226.25" r="4.9" fill="none" stroke="#000080" stroke-opacity="0.5" stroke-width="1" shape-rendering="crispEdges"/><circle cx="316.9" cy="235" r="5.4" fill="#000080" fill-opacity="0.5" shape-rendering="crispEdges"/><circle cx="316.9" cy="235" r="4.9" fill="none" stroke="#000080" stroke-opacity="0.5" stroke-width="1" shape-rendering="crispEdges"/><circle cx="316.9" cy="235" r="5.4" fill="#000080" fill-opacity="0.5" shape-rendering="crispEdges"/><circle cx="316.9" cy="235" r="4.9" fill="none" stroke="#000080" stroke-opacity="0.5" stroke-width="1" shape-rendering="crispEdges"/><circle cx="316.9" cy="235" r="5.4" fill="#000080" fill-opacity="0.5" shape-rendering="crispEdges"/><circle cx="316.9" cy="235" r="4.9" fill="none" stroke="#000080" stroke-opacity="0.5" stroke-width="1" shape-rendering="crispEdges"/><circle cx="316.9" cy="240" r="5.4" fill="#000080" fill-opacity="0.5" shape-rendering="crispEdges"/><circle cx="316.9" cy="240" r="4.9" fill="none" stroke="#000080" stroke-opacity="0.5" stroke-width="1" shape-rendering="crispEdges"/><circle cx="316.9" cy="240" r="5.4" fill="#000080" fill-opacity="0.5" shape-rendering="crispEdges"/><circle cx="316.9" cy="240" r="4.9" fill="none" stroke="#000080" stroke-opacity="0.5" stroke-width="1" shape-rendering="crispEdges"/><circle cx="316.9" cy="240" r="5.4" fill="#000080" fill-opacity="0.5" shape-rendering="crispEdges"/><circle cx="316.9" cy="240" r="4.9" fill="none" stroke="#000080" stroke-opacity="0.5" stroke-width="1" shape-rendering="crispEdges"/><circle cx="316.9" cy="244" r="5.4" fill="#000080" fill-opacity="0.5" shape-rendering="crispEdges"/><circle cx="316.9" cy="244" r="4.9" fill="none" stroke="#000080" stroke-opacity="0.5" stroke-width="1" shape-rendering="crispEdges"/><circle cx="316.9" cy="244" r="5.4" fill="#000080" fill-opacity="0.5" shape-rendering="crispEdges"/><circle cx="316.9" cy="244" r="4.9" fill="none" stroke="#000080" stroke-opacity="0.5" stroke-width="1" shape-rendering="crispEdges"/><circle cx="316.9" cy="244" r="5.4" fill="#000080" fill-opacity="0.5" shape-rendering="crispEdges"/><circle cx="316.9" cy="244" r="4.9" fill="none" stroke="#000080" stroke-opacity="0.5" stroke-width="1" shape-rendering="crispEdges"/><circle cx="316.9" cy="247.4" r="5.4" fill="#000080" fill-opacity="0.5" shape-rendering="crispEdges"/><circle cx="316.9" cy="247.4" r="4.9" fill="none" stroke="#000080" stroke-opacity="0.5" stroke-width="1" shape-rendering="crispEdges"/><circle cx="316.9" cy="247.4" r="5.4" fill="#000080" fill-opacity="0.5" shape-rendering="crispEdges"/><circle cx="316.9" cy="247.4" r="4.9" fill="none" stroke="#000080" stroke-opacity="0.5" stroke-width="1" shape-rendering="crispEdges"/><circle cx="238.4" cy="268.3" r="5.4" fill="#000080" fill-opacity="0.5" shape-rendering="crispEdges"/><circle cx="238.4" cy="268.3" r="4.9" fill="none" stroke="#000080" stroke-opacity="0.5" stroke-width="1" shape-rendering="crispEdges"/><circle cx="236.6" cy="271" r="5.4" fill="#000080" fill-opacity="0.5" shape-rendering="crispEdges"/><circle cx="236.6" cy="271" r="4.9" fill="none" stroke="#000080" stroke-opacity="0.5" stroke-width="1" shape-rendering="crispEdges"/><circle cx="240.4" cy="273.2" r="5.4" fill="#000080" fill-opacity="0.5" shape-rendering="crispEdges"/><circle cx="240.4" cy="273.2" r="4.9" fill="none" stroke="#000080" stroke-opacity="0.5" stroke-width="1" shape-rendering="crispEdges"/><circle cx="233.3" cy="279.4" r="5.4" fill="#000080" fill-opacity="0.5" shape-rendering="crispEdges"/><circle cx="233.3" cy="279.4" r="4.9" fill="none" stroke="#000080" stroke-opacity="0.5" stroke-width="1" shape-rendering="crispEdges"/><circle cx="240.1" cy="278.8" r="5.4" fill="#000080" fill-opacity="0.5" shape-rendering="crispEdges"/><circle cx="240.1" cy="278.8" r="4.9" fill="none" stroke="#000080" stroke-opacity="0.5" stroke-width="1" shape-rendering="crispEdges"/><circle cx="238.2" cy="276.3" r="5.4" fill="#000080" fill-opacity="0.5" shape-rendering="crispEdges"/><circle cx="238.2" cy="276.3" r="4.9" fill="none" stroke="#000080" stroke-opacity="0.5" stroke-width="1" shape-rendering="crispEdges"/><circle cx="237" cy="274" r="5.4" fill="#000080" fill-opacity="0.5" shape-rendering="crispEdges"/><circle cx="237" cy="274" r="4.9" fill="none" stroke="#000080" stroke-opacity="0.5" stroke-width="1" shape-rendering="crispEdges"/><circle cx="347.5" cy="203.4" r="5.4" fill="#000080" fill-opacity="0.5" shape-rendering="crispEdges"/><circle cx="347.5" cy="203.4" r="4.9" fill="none" stroke="#000080" stroke-opacity="0.5" stroke-width="1" shape-rendering="crispEdges"/><circle cx="353.4" cy="226.4" r="5.4" fill="#000080" fill-opacity="0.5" shape-rendering="crispEdges"/><circle cx="353.4" cy="226.4" r="4.9" fill="none" stroke="#000080" stroke-opacity="0.5" stroke-width="1" shape-rendering="crispEdges"/><circle cx="360.4" cy="245.4" r="5.4" fill="#000080" fill-opacity="0.5" shape-rendering="crispEdges"/><circle cx="360.4" cy="245.4" r="4.9" fill="none" stroke="#000080" stroke-opacity="0.5" stroke-width="1" shape-rendering="crispEdges"/><circle cx="408.6" cy="230.2" r="5.4" fill="#000080" fill-opacity="0.5" shape-rendering="crispEdges"/><circle cx="408.6" cy="230.2" r="4.9" fill="none" stroke="#000080" stroke-opacity="0.5" stroke-width="1" shape-rendering="crispEdges"/><circle cx="384.8" cy="189.6" r="5.4" fill="#000080" fill-opacity="0.5" shape-rendering="crispEdges"/><circle cx="384.8" cy="189.6" r="4.9" fill="none" stroke="#000080" stroke-opacity="0.5" stroke-width="1" shape-rendering="crispEdges"/><circle cx="384.8" cy="189.6" r="5.4" fill="#000080" fill-opacity="0.5" shape-rendering="crispEdges"/><circle cx="384.8" cy="189.6" r="4.9" fill="none" stroke="#000080" stroke-opacity="0.5" stroke-width="1" shape-rendering="crispEdges"/><circle cx="384.8" cy="189.6" r="5.4" fill="#000080" fill-opacity="0.5" shape-rendering="crispEdges"/><circle cx="384.8" cy="189.6" r="4.9" fill="none" stroke="#000080" stroke-opacity="0.5" stroke-width="1" shape-rendering="crispEdges"/><circle cx="388.4" cy="191.4" r="5.4" fill="#000080" fill-opacity="0.5" shape-rendering="crispEdges"/><circle cx="388.4" cy="191.4" r="4.9" fill="none" stroke="#000080" stroke-opacity="0.5" stroke-width="1" shape-rendering="crispEdges"/><circle cx="388.4" cy="191.4" r="5.4" fill="#000080" fill-opacity="0.5" shape-rendering="crispEdges"/><circle cx="388.4" cy="191.4" r="4.9" fill="none" stroke="#000080" stroke-opacity="0.5" stroke-width="1" shape-rendering="crispEdges"/><circle cx="388.4" cy="191.4" r="5.4" fill="#000080" fill-opacity="0.5" shape-rendering="crispEdges"/><circle cx="388.4" cy="191.4" r="4.9" fill="none" stroke="#000080" stroke-opacity="0.5" stroke-width="1" shape-rendering="crispEdges"/><circle cx="386.5" cy="192.5" r="5.4" fill="#000080" fill-opacity="0.5" shape-rendering="crispEdges"/><circle cx="386.5" cy="192.5" r="4.9" fill="none" stroke="#000080" stroke-opacity="0.5" stroke-width="1" shape-rendering="crispEdges"/><circle cx="387.3" cy="276" r="5.4" fill="#000080" fill-opacity="0.5" shape-rendering="crispEdges"/><circle cx="387.3" cy="276" r="4.9" fill="none" stroke="#000080" stroke-opacity="0.5" stroke-width="1" shape-rendering="crispEdges"/><circle cx="387.3" cy="276" r="5.4" fill="#000080" fill-opacity="0.5" shape-rendering="crispEdges"/><circle cx="387.3" cy="276" r="4.9" fill="none" stroke="#000080" stroke-opacity="0.5" stroke-width="1" shape-rendering="crispEdges"/><circle cx="394.4" cy="281.3" r="5.4" fill="#000080" fill-opacity="0.5" shape-rendering="crispEdges"/><circle cx="394.4" cy="281.3" r="4.9" fill="none" stroke="#000080" stroke-opacity="0.5" stroke-width="1" shape-rendering="crispEdges"/><circle cx="408.4" cy="294.4" r="5.4" fill="#000080" fill-opacity="0.5" shape-rendering="crispEdges"/><circle cx="408.4" cy="294.4" r="4.9" fill="none" stroke="#000080" stroke-opacity="0.5" stroke-width="1" shape-rendering="crispEdges"/><circle cx="413.3" cy="314.2" r="5.4" fill="#000080" fill-opacity="0.5" shape-rendering="crispEdges"/><circle cx="413.3" cy="314.2" r="4.9" fill="none" stroke="#000080" stroke-opacity="0.5" stroke-width="1" shape-rendering="crispEdges"/><circle cx="435.5" cy="280.2" r="5.4" fill="#000080" fill-opacity="0.5" shape-rendering="crispEdges"/><circle cx="435.5" cy="280.2" r="4.9" fill="none" stroke="#000080" stroke-opacity="0.5" stroke-width="1" shape-rendering="crispEdges"/><circle cx="438" cy="281" r="5.4" fill="#000080" fill-opacity="0.5" shape-rendering="crispEdges"/><circle cx="438" cy="281" r="4.9" fill="none" stroke="#000080" stroke-opacity="0.5" stroke-width="1" shape-rendering="crispEdges"/><circle cx="470" cy="313" r="5.4" fill="#000080" fill-opacity="0.5" shape-rendering="crispEdges"/><circle cx="470" cy="313" r="4.9" fill="none" stroke="#000080" stroke-opacity="0.5" stroke-width="1" shape-rendering="crispEdges"/><circle cx="470" cy="313" r="5.4" fill="#000080" fill-opacity="0.5" shape-rendering="crispEdges"/><circle cx="470" cy="313" r="4.9" fill="none" stroke="#000080" stroke-opacity="0.5" stroke-width="1" shape-rendering="crispEdges"/><circle cx="470" cy="313" r="5.4" fill="#000080" fill-opacity="0.5" shape-rendering="crispEdges"/><circle cx="470" cy="313" r="4.9" fill="none" stroke="#000080" stroke-opacity="0.5" stroke-width="1" shape-rendering="crispEdges"/><circle cx="472" cy="315.5" r="5.4" fill="#000080" fill-opacity="0.5" shape-rendering="crispEdges"/><circle cx="472" cy="315.5" r="4.9" fill="none" stroke="#000080" stroke-opacity="0.5" stroke-width="1" shape-rendering="crispEdges"/><circle cx="472" cy="315.5" r="5.4" fill="#000080" fill-opacity="0.5" shape-rendering="crispEdges"/><circle cx="472" cy="315.5" r="4.9" fill="none" stroke="#000080" stroke-opacity="0.5" stroke-width="1" shape-rendering="crispEdges"/><circle cx="442.2" cy="359.7" r="5.4" fill="#000080" fill-opacity="0.5" shape-rendering="crispEdges"/><circle cx="442.2" cy="359.7" r="4.9" fill="none" stroke="#000080" stroke-opacity="0.5" stroke-width="1" shape-rendering="crispEdges"/><circle cx="476.5" cy="356.4" r="5.4" fill="#000080" fill-opacity="0.5" shape-rendering="crispEdges"/><circle cx="476.5" cy="356.4" r="4.9" fill="none" stroke="#000080" stroke-opacity="0.5" stroke-width="1" shape-rendering="crispEdges"/><circle cx="366.5" cy="288.2" r="5.4" fill="#000080" fill-opacity="0.5" shape-rendering="crispEdges"/><circle cx="366.5" cy="288.2" r="4.9" fill="none" stroke="#000080" stroke-opacity="0.5" stroke-width="1" shape-rendering="crispEdges"/><circle cx="371.7" cy="293.5" r="5.4" fill="#000080" fill-opacity="0.5" shape-rendering="crispEdges"/><circle cx="371.7" cy="293.5" r="4.9" fill="none" stroke="#000080" stroke-opacity="0.5" stroke-width="1" shape-rendering="crispEdges"/><circle cx="367.4" cy="303" r="5.4" fill="#000080" fill-opacity="0.5" shape-rendering="crispEdges"/><circle cx="367.4" cy="303" r="4.9" fill="none" stroke="#000080" stroke-opacity="0.5" stroke-width="1" shape-rendering="crispEdges"/><circle cx="371.3" cy="311.25" r="5.4" fill="#000080" fill-opacity="0.5" shape-rendering="crispEdges"/><circle cx="371.3" cy="311.25" r="4.9" fill="none" stroke="#000080" stroke-opacity="0.5" stroke-width="1" shape-rendering="crispEdges"/><circle cx="363" cy="315.2" r="5.4" fill="#000080" fill-opacity="0.5" shape-rendering="crispEdges"/><circle cx="363" cy="315.2" r="4.9" fill="none" stroke="#000080" stroke-opacity="0.5" stroke-width="1" shape-rendering="crispEdges"/><circle cx="372.6" cy="322.5" r="5.4" fill="#000080" fill-opacity="0.5" shape-rendering="crispEdges"/><circle cx="372.6" cy="322.5" r="4.9" fill="none" stroke="#000080" stroke-opacity="0.5" stroke-width="1" shape-rendering="crispEdges"/><circle cx="315" cy="296.3" r="5.4" fill="#000080" fill-opacity="0.5" shape-rendering="crispEdges"/><circle cx="315" cy="296.3" r="4.9" fill="none" stroke="#000080" stroke-opacity="0.5" stroke-width="1" shape-rendering="crispEdges"/><circle cx="323.2" cy="298.9" r="5.4" fill="#000080" fill-opacity="0.5" shape-rendering="crispEdges"/><circle cx="323.2" cy="298.9" r="4.9" fill="none" stroke="#000080" stroke-opacity="0.5" stroke-width="1" shape-rendering="crispEdges"/><circle cx="323.2" cy="298.9" r="5.4" fill="#000080" fill-opacity="0.5" shape-rendering="crispEdges"/><circle cx="323.2" cy="298.9" r="4.9" fill="none" stroke="#000080" stroke-opacity="0.5" stroke-width="1" shape-rendering="crispEdges"/><circle cx="323.2" cy="298.9" r="5.4" fill="#000080" fill-opacity="0.5" shape-rendering="crispEdges"/><circle cx="323.2" cy="298.9" r="4.9" fill="none" stroke="#000080" stroke-opacity="0.5" stroke-width="1" shape-rendering="crispEdges"/><circle cx="323.2" cy="298.9" r="5.4" fill="#000080" fill-opacity="0.5" shape-rendering="crispEdges"/><circle cx="323.2" cy="298.9" r="4.9" fill="none" stroke="#000080" stroke-opacity="0.5" stroke-width="1" shape-rendering="crispEdges"/><circle cx="323.2" cy="298.9" r="5.4" fill="#000080" fill-opacity="0.5" shape-rendering="crispEdges"/><circle cx="323.2" cy="298.9" r="4.9" fill="none" stroke="#000080" stroke-opacity="0.5" stroke-width="1" shape-rendering="crispEdges"/><circle cx="327" cy="303" r="5.4" fill="#000080" fill-opacity="0.5" shape-rendering="crispEdges"/><circle cx="327" cy="303" r="4.9" fill="none" stroke="#000080" stroke-opacity="0.5" stroke-width="1" shape-rendering="crispEdges"/><circle cx="327" cy="303" r="5.4" fill="#000080" fill-opacity="0.5" shape-rendering="crispEdges"/><circle cx="327" cy="303" r="4.9" fill="none" stroke="#000080" stroke-opacity="0.5" stroke-width="1" shape-rendering="crispEdges"/><circle cx="327" cy="303" r="5.4" fill="#000080" fill-opacity="0.5" shape-rendering="crispEdges"/><circle cx="327" cy="303" r="4.9" fill="none" stroke="#000080" stroke-opacity="0.5" stroke-width="1" shape-rendering="crispEdges"/><circle cx="327" cy="303" r="5.4" fill="#000080" fill-opacity="0.5" shape-rendering="crispEdges"/><circle cx="327" cy="303" r="4.9" fill="none" stroke="#000080" stroke-opacity="0.5" stroke-width="1" shape-rendering="crispEdges"/><circle cx="330.2" cy="307.6" r="5.4" fill="#000080" fill-opacity="0.5" shape-rendering="crispEdges"/><circle cx="330.2" cy="307.6" r="4.9" fill="none" stroke="#000080" stroke-opacity="0.5" stroke-width="1" shape-rendering="crispEdges"/><circle cx="330.2" cy="307.6" r="5.4" fill="#000080" fill-opacity="0.5" shape-rendering="crispEdges"/><circle cx="330.2" cy="307.6" r="4.9" fill="none" stroke="#000080" stroke-opacity="0.5" stroke-width="1" shape-rendering="crispEdges"/><circle cx="330.2" cy="307.6" r="5.4" fill="#000080" fill-opacity="0.5" shape-rendering="crispEdges"/><circle cx="330.2" cy="307.6" r="4.9" fill="none" stroke="#000080" stroke-opacity="0.5" stroke-width="1" shape-rendering="crispEdges"/><circle cx="330.2" cy="307.6" r="5.4" fill="#000080" fill-opacity="0.5" shape-rendering="crispEdges"/><circle cx="330.2" cy="307.6" r="4.9" fill="none" stroke="#000080" stroke-opacity="0.5" stroke-width="1" shape-rendering="crispEdges"/><circle cx="330.2" cy="307.6" r="5.4" fill="#000080" fill-opacity="0.5" shape-rendering="crispEdges"/><circle cx="330.2" cy="307.6" r="4.9" fill="none" stroke="#000080" stroke-opacity="0.5" stroke-width="1" shape-rendering="crispEdges"/><circle cx="336.7" cy="297.6" r="5.4" fill="#000080" fill-opacity="0.5" shape-rendering="crispEdges"/><circle cx="336.7" cy="297.6" r="4.9" fill="none" stroke="#000080" stroke-opacity="0.5" stroke-width="1" shape-rendering="crispEdges"/><circle cx="336.25" cy="305" r="5.4" fill="#000080" fill-opacity="0.5" shape-rendering="crispEdges"/><circle cx="336.25" cy="305" r="4.9" fill="none" stroke="#000080" stroke-opacity="0.5" stroke-width="1" shape-rendering="crispEdges"/><circle cx="336.25" cy="305" r="5.4" fill="#000080" fill-opacity="0.5" shape-rendering="crispEdges"/><circle cx="336.25" cy="305" r="4.9" fill="none" stroke="#000080" stroke-opacity="0.5" stroke-width="1" shape-rendering="crispEdges"/><circle cx="336.25" cy="305" r="5.4" fill="#000080" fill-opacity="0.5" shape-rendering="crispEdges"/><circle cx="336.25" cy="305" r="4.9" fill="none" stroke="#000080" stroke-opacity="0.5" stroke-width="1" shape-rendering="crispEdges"/><circle cx="338.4" cy="314.5" r="5.4" fill="#000080" fill-opacity="0.5" shape-rendering="crispEdges"/><circle cx="338.4" cy="314.5" r="4.9" fill="none" stroke="#000080" stroke-opacity="0.5" stroke-width="1" shape-rendering="crispEdges"/><circle cx="339.7" cy="321.5" r="5.4" fill="#000080" fill-opacity="0.5" shape-rendering="crispEdges"/><circle cx="339.7" cy="321.5" r="4.9" fill="none" stroke="#000080" stroke-opacity="0.5" stroke-width="1" shape-rendering="crispEdges"/><circle cx="346.2" cy="320.2" r="5.4" fill="#000080" fill-opacity="0.5" shape-rendering="crispEdges"/><circle cx="346.2" cy="320.2" r="4.9" fill="none" stroke="#000080" stroke-opacity="0.5" stroke-width="1" shape-rendering="crispEdges"/><circle cx="346.2" cy="320.2" r="5.4" fill="#000080" fill-opacity="0.5" shape-rendering="crispEdges"/><circle cx="346.2" cy="320.2" r="4.9" fill="none" stroke="#000080" stroke-opacity="0.5" stroke-width="1" shape-rendering="crispEdges"/><circle cx="346.2" cy="320.2" r="5.4" fill="#000080" fill-opacity="0.5" shape-rendering="crispEdges"/><circle cx="346.2" cy="320.2" r="4.9" fill="none" stroke="#000080" stroke-opacity="0.5" stroke-width="1" shape-rendering="crispEdges"/><circle cx="346.2" cy="320.2" r="5.4" fill="#000080" fill-opacity="0.5" shape-rendering="crispEdges"/><circle cx="346.2" cy="320.2" r="4.9" fill="none" stroke="#000080" stroke-opacity="0.5" stroke-width="1" shape-rendering="crispEdges"/><circle cx="346.2" cy="320.2" r="5.4" fill="#000080" fill-opacity="0.5" shape-rendering="crispEdges"/><circle cx="346.2" cy="320.2" r="4.9" fill="none" stroke="#000080" stroke-opacity="0.5" stroke-width="1" shape-rendering="crispEdges"/><circle cx="349.2" cy="324.5" r="5.4" fill="#000080" fill-opacity="0.5" shape-rendering="crispEdges"/><circle cx="349.2" cy="324.5" r="4.9" fill="none" stroke="#000080" stroke-opacity="0.5" stroke-width="1" shape-rendering="crispEdges"/><circle cx="349.2" cy="324.5" r="5.4" fill="#000080" fill-opacity="0.5" shape-rendering="crispEdges"/><circle cx="349.2" cy="324.5" r="4.9" fill="none" stroke="#000080" stroke-opacity="0.5" stroke-width="1" shape-rendering="crispEdges"/><circle cx="349.2" cy="324.5" r="5.4" fill="#000080" fill-opacity="0.5" shape-rendering="crispEdges"/><circle cx="349.2" cy="324.5" r="4.9" fill="none" stroke="#000080" stroke-opacity="0.5" stroke-width="1" shape-rendering="crispEdges"/><circle cx="349.2" cy="324.5" r="5.4" fill="#000080" fill-opacity="0.5" shape-rendering="crispEdges"/><circle cx="349.2" cy="324.5" r="4.9" fill="none" stroke="#000080" stroke-opacity="0.5" stroke-width="1" shape-rendering="crispEdges"/><circle cx="351" cy="316.25" r="5.4" fill="#000080" fill-opacity="0.5" shape-rendering="crispEdges"/><circle cx="351" cy="316.25" r="4.9" fill="none" stroke="#000080" stroke-opacity="0.5" stroke-width="1" shape-rendering="crispEdges"/><circle cx="351" cy="316.25" r="5.4" fill="#000080" fill-opacity="0.5" shape-rendering="crispEdges"/><circle cx="351" cy="316.25" r="4.9" fill="none" stroke="#000080" stroke-opacity="0.5" stroke-width="1" shape-rendering="crispEdges"/><circle cx="363.8" cy="342.5" r="5.4" fill="#000080" fill-opacity="0.5" shape-rendering="crispEdges"/><circle cx="363.8" cy="342.5" r="4.9" fill="none" stroke="#000080" stroke-opacity="0.5" stroke-width="1" shape-rendering="crispEdges"/><circle cx="363.8" cy="342.5" r="5.4" fill="#000080" fill-opacity="0.5" shape-rendering="crispEdges"/><circle cx="363.8" cy="342.5" r="4.9" fill="none" stroke="#000080" stroke-opacity="0.5" stroke-width="1" shape-rendering="crispEdges"/><circle cx="363.8" cy="342.5" r="5.4" fill="#000080" fill-opacity="0.5" shape-rendering="crispEdges"/><circle cx="363.8" cy="342.5" r="4.9" fill="none" stroke="#000080" stroke-opacity="0.5" stroke-width="1" shape-rendering="crispEdges"/><circle cx="373.4" cy="347.2" r="5.4" fill="#000080" fill-opacity="0.5" shape-rendering="crispEdges"/><circle cx="373.4" cy="347.2" r="4.9" fill="none" stroke="#000080" stroke-opacity="0.5" stroke-width="1" shape-rendering="crispEdges"/><circle cx="386" cy="356" r="5.4" fill="#000080" fill-opacity="0.5" shape-rendering="crispEdges"/><circle cx="386" cy="356" r="4.9" fill="none" stroke="#000080" stroke-opacity="0.5" stroke-width="1" shape-rendering="crispEdges"/><circle cx="386" cy="356" r="5.4" fill="#000080" fill-opacity="0.5" shape-rendering="crispEdges"/><circle cx="386" cy="356" r="4.9" fill="none" stroke="#000080" stroke-opacity="0.5" stroke-width="1" shape-rendering="crispEdges"/><circle cx="386" cy="356" r="5.4" fill="#000080" fill-opacity="0.5" shape-rendering="crispEdges"/><circle cx="386" cy="356" r="4.9" fill="none" stroke="#000080" stroke-opacity="0.5" stroke-width="1" shape-rendering="crispEdges"/><circle cx="387.5" cy="357.5" r="5.4" fill="#000080" fill-opacity="0.5" shape-rendering="crispEdges"/><circle cx="387.5" cy="357.5" r="4.9" fill="none" stroke="#000080" stroke-opacity="0.5" stroke-width="1" shape-rendering="crispEdges"/><circle cx="387.5" cy="357.5" r="5.4" fill="#000080" fill-opacity="0.5" shape-rendering="crispEdges"/><circle cx="387.5" cy="357.5" r="4.9" fill="none" stroke="#000080" stroke-opacity="0.5" stroke-width="1" shape-rendering="crispEdges"/><circle cx="398.4" cy="354.2" r="5.4" fill="#000080" fill-opacity="0.5" shape-rendering="crispEdges"/><circle cx="398.4" cy="354.2" r="4.9" fill="none" stroke="#000080" stroke-opacity="0.5" stroke-width="1" shape-rendering="crispEdges"/><circle cx="398.4" cy="354.2" r="5.4" fill="#000080" fill-opacity="0.5" shape-rendering="crispEdges"/><circle cx="398.4" cy="354.2" r="4.9" fill="none" stroke="#000080" stroke-opacity="0.5" stroke-width="1" shape-rendering="crispEdges"/><circle cx="414.8" cy="371.4" r="5.4" fill="#000080" fill-opacity="0.5" shape-rendering="crispEdges"/><circle cx="414.8" cy="371.4" r="4.9" fill="none" stroke="#000080" stroke-opacity="0.5" stroke-width="1" shape-rendering="crispEdges"/><circle cx="421.6" cy="374.5" r="5.4" fill="#000080" fill-opacity="0.5" shape-rendering="crispEdges"/><circle cx="421.6" cy="374.5" r="4.9" fill="none" stroke="#000080" stroke-opacity="0.5" stroke-width="1" shape-rendering="crispEdges"/><circle cx="421.6" cy="374.5" r="5.4" fill="#000080" fill-opacity="0.5" shape-rendering="crispEdges"/><circle cx="421.6" cy="374.5" r="4.9" fill="none" stroke="#000080" stroke-opacity="0.5" stroke-width="1" shape-rendering="crispEdges"/><circle cx="421.6" cy="374.5" r="5.4" fill="#000080" fill-opacity="0.5" shape-rendering="crispEdges"/><circle cx="421.6" cy="374.5" r="4.9" fill="none" stroke="#000080" stroke-opacity="0.5" stroke-width="1" shape-rendering="crispEdges"/><circle cx="421.6" cy="374.5" r="5.4" fill="#000080" fill-opacity="0.5" shape-rendering="crispEdges"/><circle cx="421.6" cy="374.5" r="4.9" fill="none" stroke="#000080" stroke-opacity="0.5" stroke-width="1" shape-rendering="crispEdges"/><circle cx="421.6" cy="374.5" r="5.4" fill="#000080" fill-opacity="0.5" shape-rendering="crispEdges"/><circle cx="421.6" cy="374.5" r="4.9" fill="none" stroke="#000080" stroke-opacity="0.5" stroke-width="1" shape-rendering="crispEdges"/><circle cx="427" cy="427" r="5.4" fill="#000080" fill-opacity="0.5" shape-rendering="crispEdges"/><circle cx="427" cy="427" r="4.9" fill="none" stroke="#000080" stroke-opacity="0.5" stroke-width="1" shape-rendering="crispEdges"/><circle cx="432.5" cy="430" r="5.4" fill="#000080" fill-opacity="0.5" shape-rendering="crispEdges"/><circle cx="432.5" cy="430" r="4.9" fill="none" stroke="#000080" stroke-opacity="0.5" stroke-width="1" shape-rendering="crispEdges"/><circle cx="432.5" cy="430" r="5.4" fill="#000080" fill-opacity="0.5" shape-rendering="crispEdges"/><circle cx="432.5" cy="430" r="4.9" fill="none" stroke="#000080" stroke-opacity="0.5" stroke-width="1" shape-rendering="crispEdges"/><circle cx="432.5" cy="430" r="5.4" fill="#000080" fill-opacity="0.5" shape-rendering="crispEdges"/><circle cx="432.5" cy="430" r="4.9" fill="none" stroke="#000080" stroke-opacity="0.5" stroke-width="1" shape-rendering="crispEdges"/><circle cx="432.5" cy="430" r="5.4" fill="#000080" fill-opacity="0.5" shape-rendering="crispEdges"/><circle cx="432.5" cy="430" r="4.9" fill="none" stroke="#000080" stroke-opacity="0.5" stroke-width="1" shape-rendering="crispEdges"/><circle cx="436" cy="432" r="5.4" fill="#000080" fill-opacity="0.5" shape-rendering="crispEdges"/><circle cx="436" cy="432" r="4.9" fill="none" stroke="#000080" stroke-opacity="0.5" stroke-width="1" shape-rendering="crispEdges"/><circle cx="436" cy="432" r="5.4" fill="#000080" fill-opacity="0.5" shape-rendering="crispEdges"/><circle cx="436" cy="432" r="4.9" fill="none" stroke="#000080" stroke-opacity="0.5" stroke-width="1" shape-rendering="crispEdges"/><circle cx="436" cy="432" r="5.4" fill="#000080" fill-opacity="0.5" shape-rendering="crispEdges"/><circle cx="436" cy="432" r="4.9" fill="none" stroke="#000080" stroke-opacity="0.5" stroke-width="1" shape-rendering="crispEdges"/><circle cx="436" cy="432" r="5.4" fill="#000080" fill-opacity="0.5" shape-rendering="crispEdges"/><circle cx="436" cy="432" r="4.9" fill="none" stroke="#000080" stroke-opacity="0.5" stroke-width="1" shape-rendering="crispEdges"/><circle cx="433" cy="436" r="5.4" fill="#000080" fill-opacity="0.5" shape-rendering="crispEdges"/><circle cx="433" cy="436" r="4.9" fill="none" stroke="#000080" stroke-opacity="0.5" stroke-width="1" shape-rendering="crispEdges"/><circle cx="433" cy="436" r="5.4" fill="#000080" fill-opacity="0.5" shape-rendering="crispEdges"/><circle cx="433" cy="436" r="4.9" fill="none" stroke="#000080" stroke-opacity="0.5" stroke-width="1" shape-rendering="crispEdges"/><circle cx="433" cy="436" r="5.4" fill="#000080" fill-opacity="0.5" shape-rendering="crispEdges"/><circle cx="433" cy="436" r="4.9" fill="none" stroke="#000080" stroke-opacity="0.5" stroke-width="1" shape-rendering="crispEdges"/><circle cx="433" cy="436" r="5.4" fill="#000080" fill-opacity="0.5" shape-rendering="crispEdges"/><circle cx="433" cy="436" r="4.9" fill="none" stroke="#000080" stroke-opacity="0.5" stroke-width="1" shape-rendering="crispEdges"/><circle cx="434" cy="440" r="5.4" fill="#000080" fill-opacity="0.5" shape-rendering="crispEdges"/><circle cx="434" cy="440" r="4.9" fill="none" stroke="#000080" stroke-opacity="0.5" stroke-width="1" shape-rendering="crispEdges"/><circle cx="434" cy="440" r="5.4" fill="#000080" fill-opacity="0.5" shape-rendering="crispEdges"/><circle cx="434" cy="440" r="4.9" fill="none" stroke="#000080" stroke-opacity="0.5" stroke-width="1" shape-rendering="crispEdges"/><circle cx="434" cy="440" r="5.4" fill="#000080" fill-opacity="0.5" shape-rendering="crispEdges"/><circle cx="434" cy="440" r="4.9" fill="none" stroke="#000080" stroke-opacity="0.5" stroke-width="1" shape-rendering="crispEdges"/><circle cx="430" cy="434" r="5.4" fill="#000080" fill-opacity="0.5" shape-rendering="crispEdges"/><circle cx="430" cy="434" r="4.9" fill="none" stroke="#000080" stroke-opacity="0.5" stroke-width="1" shape-rendering="crispEdges"/><circle cx="430" cy="434" r="5.4" fill="#000080" fill-opacity="0.5" shape-rendering="crispEdges"/><circle cx="430" cy="434" r="4.9" fill="none" stroke="#000080" stroke-opacity="0.5" stroke-width="1" shape-rendering="crispEdges"/><circle cx="444.8" cy="439.2" r="5.4" fill="#000080" fill-opacity="0.5" shape-rendering="crispEdges"/><circle cx="444.8" cy="439.2" r="4.9" fill="none" stroke="#000080" stroke-opacity="0.5" stroke-width="1" shape-rendering="crispEdges"/><circle cx="445.8" cy="439.9" r="5.4" fill="#000080" fill-opacity="0.5" shape-rendering="crispEdges"/><circle cx="445.8" cy="439.9" r="4.9" fill="none" stroke="#000080" stroke-opacity="0.5" stroke-width="1" shape-rendering="crispEdges"/><circle cx="471.4" cy="455.9" r="5.4" fill="#000080" fill-opacity="0.5" shape-rendering="crispEdges"/><circle cx="471.4" cy="455.9" r="4.9" fill="none" stroke="#000080" stroke-opacity="0.5" stroke-width="1" shape-rendering="crispEdges"/><circle cx="488.6" cy="441.3" r="5.4" fill="#000080" fill-opacity="0.5" shape-rendering="crispEdges"/><circle cx="488.6" cy="441.3" r="4.9" fill="none" stroke="#000080" stroke-opacity="0.5" stroke-width="1" shape-rendering="crispEdges"/><circle cx="612.5" cy="483.3" r="5.4" fill="#000080" fill-opacity="0.5" shape-rendering="crispEdges"/><circle cx="612.5" cy="483.3" r="4.9" fill="none" stroke="#000080" stroke-opacity="0.5" stroke-width="1" shape-rendering="crispEdges"/><circle cx="621.6" cy="493.2" r="5.4" fill="#000080" fill-opacity="0.5" shape-rendering="crispEdges"/><circle cx="621.6" cy="493.2" r="4.9" fill="none" stroke="#000080" stroke-opacity="0.5" stroke-width="1" shape-rendering="crispEdges"/></g>
<text x="247.6" y="542.1" text-anchor="middle" font-size="19" letter-spacing="0.9" fill="#4D4D4D">118<tspan dy="1.9">°</tspan><tspan dy="-1.9">W</tspan></text><text x="310.6" y="542.1" text-anchor="middle" font-size="19" letter-spacing="0.9" fill="#4D4D4D">116<tspan dy="1.9">°</tspan><tspan dy="-1.9">W</tspan></text><text x="373.6" y="542.1" text-anchor="middle" font-size="19" letter-spacing="0.9" fill="#4D4D4D">114<tspan dy="1.9">°</tspan><tspan dy="-1.9">W</tspan></text><text x="436.6" y="542.1" text-anchor="middle" font-size="19" letter-spacing="0.9" fill="#4D4D4D">112<tspan dy="1.9">°</tspan><tspan dy="-1.9">W</tspan></text><text x="499.6" y="542.1" text-anchor="middle" font-size="19" letter-spacing="0.9" fill="#4D4D4D">110<tspan dy="1.9">°</tspan><tspan dy="-1.9">W</tspan></text><text x="562.6" y="542.1" text-anchor="middle" font-size="19" letter-spacing="0.9" fill="#4D4D4D">108<tspan dy="1.9">°</tspan><tspan dy="-1.9">W</tspan></text><text x="625.6" y="542.1" text-anchor="middle" font-size="19" letter-spacing="0.9" fill="#4D4D4D">106<tspan dy="1.9">°</tspan><tspan dy="-1.9">W</tspan></text><text x="189.3" y="103.1" text-anchor="end" font-size="19" letter-spacing="0.13" fill="#4D4D4D">34<tspan dy="1.9">°</tspan><tspan dy="-1.9">N</tspan></text><text x="189.3" y="175.1" text-anchor="end" font-size="19" letter-spacing="0.13" fill="#4D4D4D">32<tspan dy="1.9">°</tspan><tspan dy="-1.9">N</tspan></text><text x="189.3" y="247.1" text-anchor="end" font-size="19" letter-spacing="0.13" fill="#4D4D4D">30<tspan dy="1.9">°</tspan><tspan dy="-1.9">N</tspan></text><text x="189.3" y="319.1" text-anchor="end" font-size="19" letter-spacing="0.13" fill="#4D4D4D">28<tspan dy="1.9">°</tspan><tspan dy="-1.9">N</tspan></text><text x="189.3" y="391.1" text-anchor="end" font-size="19" letter-spacing="0.13" fill="#4D4D4D">26<tspan dy="1.9">°</tspan><tspan dy="-1.9">N</tspan></text><text x="189.3" y="462.1" text-anchor="end" font-size="19" letter-spacing="0.13" fill="#4D4D4D">24<tspan dy="1.9">°</tspan><tspan dy="-1.9">N</tspan></text><text x="420.2" y="25.9" text-anchor="middle" font-size="23" letter-spacing="0.6" fill="#000">Geographic Map</text><text x="420" y="564.6" text-anchor="middle" font-size="20" letter-spacing="0.28" fill="#000">Longitude</text><text transform="translate(138.7,278.3) rotate(-90)" x="0" y="0" text-anchor="middle" font-size="20" letter-spacing="0.72" fill="#000">Latitude</text>
</svg></body></html>
